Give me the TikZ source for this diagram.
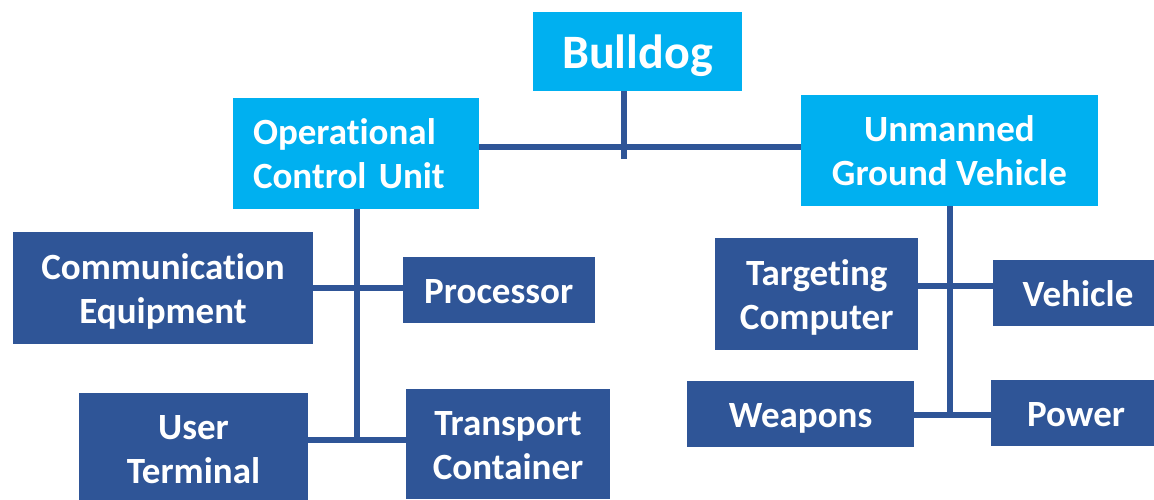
\documentclass[tikz,border=0pt]{standalone}
\usepackage{fontspec}
\setmainfont{Carlito}[Ligatures={NoCommon}]
\definecolor{lblue}{HTML}{00B0F0}
\definecolor{dblue}{HTML}{2F5597}
\newcommand\onel[1]{\rule{0pt}{27pt}\smash{#1}}
\newcommand\twol[2]{\rule{0pt}{26pt}\smash{#1}\\\smash{#2}}
\tikzset{
  box/.style={rectangle, inner sep=0pt, text=white, font=\bfseries\fontsize{37}{44}\selectfont, align=center, anchor=center},
  lb/.style={box, fill=lblue},
  db/.style={box, fill=dblue},
  conn/.style={draw=dblue, line width=6pt}
}
\begin{document}
\begin{tikzpicture}[x=1pt,y=-1pt]
\useasboundingbox (0,0) rectangle (1154,499);
\clip (0,0) rectangle (1154,499);
% top level
\node[lb, minimum width=209pt, minimum height=79pt, font=\bfseries\fontsize{48}{56}\selectfont] (bulldog) at (637.5,51.5) {\rule{0pt}{34pt}\smash{Bulldog}};
\node[lb, minimum width=246pt, minimum height=111pt, text width=206pt, inner xsep=20pt, align=left] (ocu) at (356,153.5) {\twol{Operational}{Control Unit}};
\node[lb, minimum width=297pt, minimum height=111pt] (ugv) at (949.4,150.4) {\twol{Unmanned}{Ground Vehicle}};
% OCU children
\node[db, minimum width=300pt, minimum height=112pt] (comm) at (163,288) {\twol{Communication}{Equipment}};
\node[db, minimum width=192pt, minimum height=66pt] (proc) at (498.7,289.7) {\onel{Processor}};
\node[db, minimum width=229pt, minimum height=111pt] (user) at (193.5,448.5) {\twol{User}{Terminal}};
\node[db, minimum width=204pt, minimum height=110pt] (trans) at (508,444) {\twol{Transport}{Container}};
% UGV children
\node[db, minimum width=203pt, minimum height=112pt] (targ) at (816.7,294.2) {\twol{Targeting}{Computer}};
\node[db, minimum width=170pt, minimum height=66pt] (veh) at (1078,293) {\onel{Vehicle}};
\node[db, minimum width=227pt, minimum height=66pt] (weap) at (800.5,414) {\onel{Weapons}};
\node[db, minimum width=170pt, minimum height=66pt] (power) at (1076,413) {\onel{Power}};
% junction coordinates
\coordinate (tb) at (624,159);
\coordinate (hj) at (624,147);
\coordinate (lj) at (357,440);
\coordinate (lu) at (357,288);
\coordinate (rj1) at (949.5,285.7);
\coordinate (rj2) at (949.5,415.3);
% connectors
\draw[conn] (bulldog.south -| tb) -- (tb);
\draw[conn] (ocu.east |- hj) -- (ugv.west |- hj);
\draw[conn] (ocu.south -| lj) -- (lj);
\draw[conn] (comm.east |- lu) -- (proc.west |- lu);
\draw[conn] (user.east |- lj) -- (trans.west |- lj);
\draw[conn] (ugv.south -| rj2) -- (rj2);
\draw[conn] (targ.east |- rj1) -- (veh.west |- rj1);
\draw[conn] (weap.east |- rj2) -- (power.west |- rj2);
\end{tikzpicture}
\end{document}
